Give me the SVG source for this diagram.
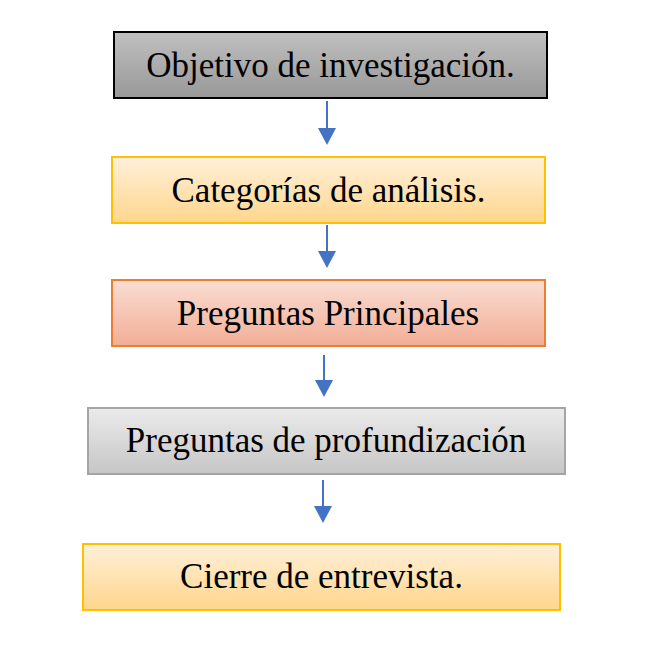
<svg xmlns="http://www.w3.org/2000/svg" width="659" height="646" viewBox="0 0 659 646">
<defs>
<linearGradient id="gGray" x1="0" y1="0" x2="0" y2="1"><stop offset="0" stop-color="#c0c0c0"/><stop offset="1" stop-color="#989898"/></linearGradient>
<linearGradient id="gGold" x1="0" y1="0" x2="0" y2="1"><stop offset="0" stop-color="#fff0da"/><stop offset="1" stop-color="#ffd68c"/></linearGradient>
<linearGradient id="gOrange" x1="0" y1="0" x2="0" y2="1"><stop offset="0" stop-color="#f9ddd3"/><stop offset="1" stop-color="#f2ae96"/></linearGradient>
<linearGradient id="gLight" x1="0" y1="0" x2="0" y2="1"><stop offset="0" stop-color="#ebebeb"/><stop offset="1" stop-color="#c6c6c6"/></linearGradient>
</defs>
<style>
.t{font-family:"Liberation Serif","Times New Roman",serif;font-size:35px;fill:#000;text-anchor:middle}
.c{stroke:#4472c4;stroke-width:2;fill:none}
.h{fill:#4472c4}
</style>
<rect width="659" height="646" fill="#fff"/>
<g id="connectors">
<line class="c" x1="327" y1="101" x2="327" y2="128"/><path class="h" d="M318,128 L336,128 L327,145 z"/>
<line class="c" x1="327" y1="225" x2="327" y2="251"/><path class="h" d="M318,251 L336,251 L327,268 z"/>
<line class="c" x1="324" y1="355" x2="324" y2="380"/><path class="h" d="M315,380 L333,380 L324,397 z"/>
<line class="c" x1="323" y1="480" x2="323" y2="506"/><path class="h" d="M314,506 L332,506 L323,523 z"/>
</g>
<g id="n1">
<rect x="114" y="32" width="433" height="66" fill="url(#gGray)" stroke="#000" stroke-width="2"/>
<text class="t" x="330.5" y="77">Objetivo de investigación.</text>
</g>
<g id="n2">
<rect x="112" y="157" width="433" height="66" fill="url(#gGold)" stroke="#ffc000" stroke-width="2"/>
<text class="t" x="328.5" y="202">Categorías de análisis.</text>
</g>
<g id="n3">
<rect x="112" y="280" width="433" height="66" fill="url(#gOrange)" stroke="#ed7d31" stroke-width="2"/>
<text class="t" x="328" y="325">Preguntas Principales</text>
</g>
<g id="n4">
<rect x="88" y="408" width="477" height="66" fill="url(#gLight)" stroke="#a5a5a5" stroke-width="2"/>
<text class="t" x="326" y="452">Preguntas de profundización</text>
</g>
<g id="n5">
<rect x="83" y="544" width="477" height="66" fill="url(#gGold)" stroke="#ffc000" stroke-width="2"/>
<text class="t" x="321.5" y="588">Cierre de entrevista.</text>
</g>
</svg>
